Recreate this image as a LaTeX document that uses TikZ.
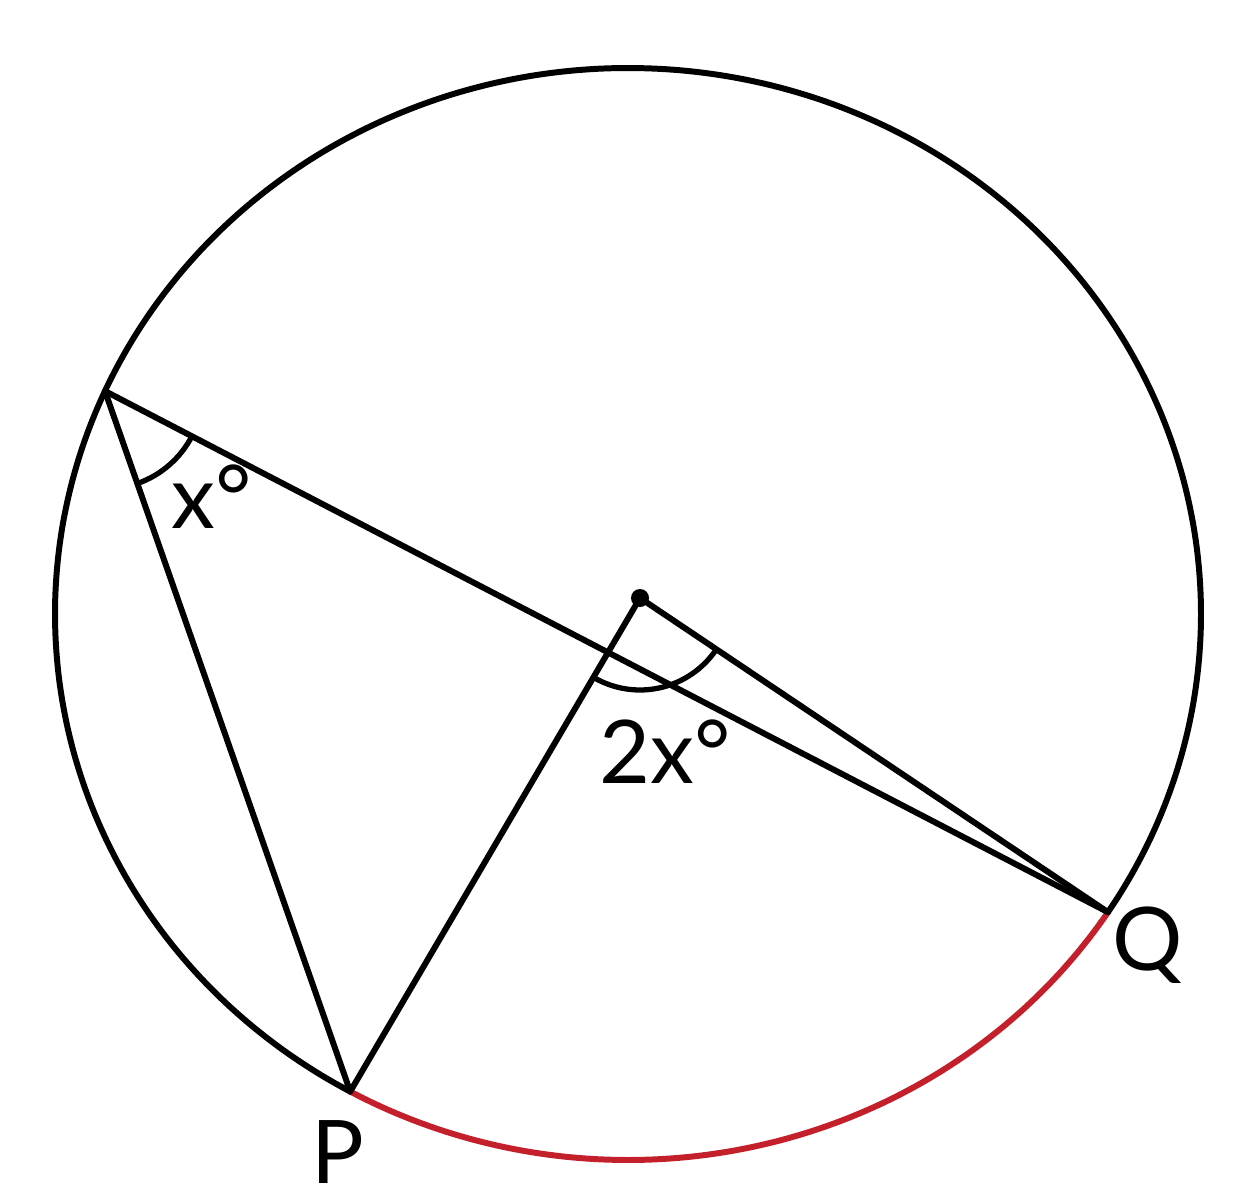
\documentclass[tikz,border=0pt]{standalone}
\usepackage{fontspec}
\setmainfont{Lato}
\usetikzlibrary{calc}
\definecolor{arcred}{RGB}{196,32,44}
\tikzset{
  geo/.style={line width=3.4pt, line cap=round, line join=round},
  anglemark/.style={line width=3pt, line cap=round},
  lab/.style={font=\fontsize{50}{56}\selectfont, inner sep=0pt},
}
\begin{document}
\begin{tikzpicture}[x=0.02cm,y=-0.02cm]
\useasboundingbox (0,0) rectangle (1255,1200);
% key points on the circle (drawn as slightly oval, like the original)
\coordinate (C) at (628,614);
\coordinate (A) at ({628+573*cos(204.1)},{614+546*sin(204.1)});
\coordinate (P) at ({628+573*cos(119)},{614+546*sin(119)});
\coordinate (Q) at ({628+573*cos(33.1)},{614+546*sin(33.1)});
\coordinate (O) at (640,598);
% circle: black major arc, red minor arc PQ
\draw[geo] plot[domain=119:393.1, samples=240, smooth] ({628+573*cos(\x)},{614+546*sin(\x)});
\draw[geo, arcred] plot[domain=33.1:119, samples=120, smooth] ({628+573*cos(\x)},{614+546*sin(\x)});
% chords and radii
\draw[geo] (A) -- (P);
\draw[geo] (A) -- (Q);
\draw[geo] (O) -- (P);
\draw[geo] (O) -- (Q);
\fill (O) circle[radius=9];
% angle marks
\draw[anglemark] let \p1=($(P)-(A)$), \p2=($(Q)-(A)$),
  \n1={atan2(\y1,\x1)}, \n2={atan2(\y2,\x2)} in
  ([shift={(\n2:1.96cm)}]A) arc[start angle=\n2, end angle=\n1, radius=1.96cm];
\draw[anglemark] let \p1=($(P)-(O)$), \p2=($(Q)-(O)$),
  \n1={atan2(\y1,\x1)}, \n2={atan2(\y2,\x2)} in
  ([shift={(\n2:1.84cm)}]O) arc[start angle=\n2, end angle=\n1, radius=1.84cm];
% labels
\node[lab] (lx) at (212,497) {x°};
\node[lab] (l2x) at (665,752) {2x°};
\node[lab] (lP) at (338,1152) {P};
\node[lab] (lQ) at (1148,945) {Q};
\end{tikzpicture}
\end{document}
